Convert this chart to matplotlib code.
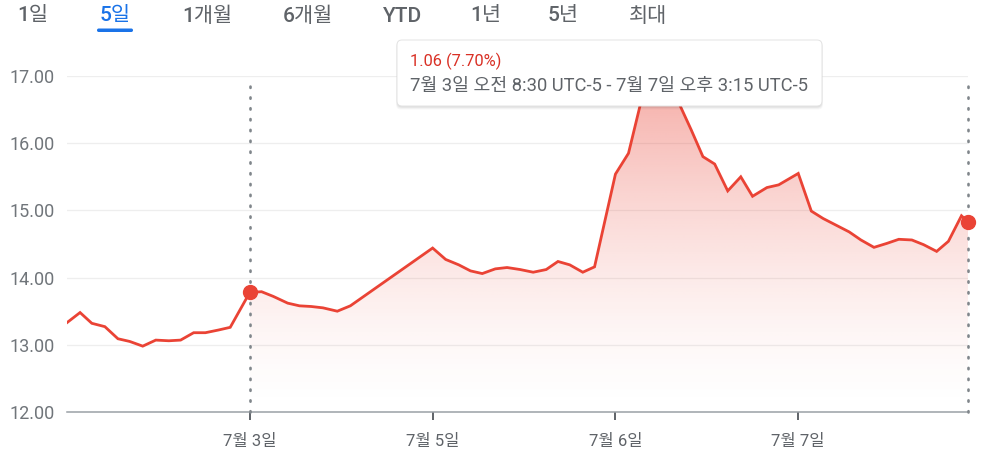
import numpy as np
import matplotlib
matplotlib.use("Agg")
import matplotlib.pyplot as plt
from matplotlib.patches import FancyBboxPatch
from matplotlib.transforms import IdentityTransform

# ---------------- data ----------------
tabs = ["1일", "5일", "1개월", "6개월", "YTD", "1년", "5년", "최대"]
tab_x = [33, 115, 207, 308, 403, 486, 563, 648]
selected_tab = "5일"

# sample position (half-hour slots) and price
t = [0.0, 1.0, 1.9, 2.9, 3.9, 4.8, 5.8, 6.8, 7.8, 8.7, 9.7, 10.6, 11.6, 12.5,
     14.0, 14.9, 15.8, 16.9, 17.8, 18.7, 19.6, 20.7, 21.7,
     28.0, 29.0, 30.0, 30.9, 31.8, 32.8, 33.7, 34.7, 35.7, 36.7, 37.6, 38.5, 39.5, 40.4,
     42.0, 43.0, 44.0, 45.0, 45.9, 46.9, 47.8, 48.7, 49.6, 50.6, 51.6, 52.5, 53.6, 54.5,
     56.0, 57.0, 57.9, 58.9, 59.9, 60.8, 61.8, 62.8, 63.7, 64.7, 65.6, 66.6, 67.5, 68.5, 69.0]
price = [13.33, 13.48, 13.32, 13.27, 13.09, 13.05, 12.98, 13.07, 13.06, 13.07, 13.18, 13.18, 13.22, 13.26,
         13.78, 13.79, 13.72, 13.62, 13.58, 13.57, 13.55, 13.50, 13.58,
         14.44, 14.27, 14.19, 14.10, 14.06, 14.13, 14.15, 14.12, 14.08, 14.12, 14.24, 14.19, 14.08, 14.16,
         15.54, 15.85, 16.65, 16.95, 16.85, 16.58, 16.20, 15.80, 15.69, 15.29, 15.50, 15.21, 15.34, 15.38,
         15.55, 14.99, 14.88, 14.78, 14.68, 14.56, 14.45, 14.51, 14.57, 14.56, 14.49, 14.39, 14.54, 14.92, 14.83]

range_start = 14.0
range_end = 69.0

x_ticks = [14, 28, 42, 56]
x_labels = ["7월 3일", "7월 5일", "7월 6일", "7월 7일"]
y_ticks = [12, 13, 14, 15, 16, 17]
y_labels = ["12.00", "13.00", "14.00", "15.00", "16.00", "17.00"]

tip_change = "1.06 (7.70%)"
tip_range = "7월 3일 오전 8:30 UTC-5 - 7월 7일 오후 3:15 UTC-5"

# ---------------- style ----------------
RED = "#ea4335"
GREY_TXT = "#70757a"
DARK_TXT = "#5f6368"
BLUE = "#1a73e8"
FONTS = ["Roboto", "Noto Sans CJK KR", "DejaVu Sans"]
plt.rcParams["font.family"] = FONTS

W, H = 991, 459
fig = plt.figure(figsize=(W / 100, H / 100), dpi=100)
fig.patch.set_facecolor("white")

L, R, T, B = 67, 968, 76, 412
ax = fig.add_axes([L / W, 1 - B / H, (R - L) / W, (B - T) / H])
ax.set_xlim(0, 69)
ax.set_ylim(12, 17)
ax.set_facecolor("none")
for s in ["top", "right", "left"]:
    ax.spines[s].set_visible(False)
ax.spines["bottom"].set_color("#9aa0a6")
ax.spines["bottom"].set_linewidth(1.1)
ax.spines["bottom"].set_zorder(2)

# gridlines
for yv in y_ticks[1:]:
    ax.axhline(yv, color="#eeeeee", lw=0.9, zorder=0)

# ticks
ax.set_yticks(y_ticks)
ax.set_yticklabels(y_labels, fontsize=13, color=GREY_TXT, family=FONTS)
ax.tick_params(axis="y", length=0, pad=9)
ax.set_xticks(x_ticks)
ax.set_xticklabels(x_labels, fontsize=12, color=DARK_TXT, family=FONTS)
ax.tick_params(axis="x", length=5.8, width=1.4, color=DARK_TXT, pad=10)

t_arr = np.array(t)
p_arr = np.array(price)

# gradient fill for the selected range
mask = t_arr >= range_start
poly = ax.fill_between(t_arr[mask], p_arr[mask], 12, color="none", lw=0)
ys = np.linspace(0, 1, 300)[:, None]
alpha = 0.44 * ys ** 1.5
img = np.zeros((300, 2, 4))
img[..., 0] = 234 / 255
img[..., 1] = 67 / 255
img[..., 2] = 53 / 255
img[..., 3] = alpha
im = ax.imshow(img, origin="lower", extent=[range_start, range_end, 12, 17],
               aspect="auto", zorder=1, interpolation="bilinear")
im.set_clip_path(poly.get_paths()[0], transform=ax.transData)

# price line
ax.plot(t_arr, p_arr, color=RED, lw=2.0, zorder=4, solid_joinstyle="miter")

# dotted range markers
for xv in (range_start, range_end):
    ax.plot([xv, xv], [12, 16.9], color="#80868b", lw=1.9,
            linestyle=(0, (0.5, 3.6)), dash_capstyle="round", zorder=3, clip_on=False)

# end-point dots
ax.plot([t_arr[mask][0], t_arr[-1]], [p_arr[mask][0], p_arr[-1]], "o",
        color=RED, ms=10, zorder=5, clip_on=False)

# ---------------- top tabs ----------------
def px(x, y):
    return x / W, 1 - y / H

for lab, xc in zip(tabs, tab_x):
    col = BLUE if lab == selected_tab else DARK_TXT
    fig.text(*px(xc, 16), lab, ha="center", va="center", fontsize=15,
             color=col, family=["Roboto", "Noto Sans CJK KR"], fontweight="medium")

fig.add_artist(FancyBboxPatch((97, H - 32), 36, 3.5,
                              boxstyle="round,pad=0,rounding_size=1.7",
                              transform=IdentityTransform(), color=BLUE, lw=0))

# ---------------- tooltip ----------------
bx0, by0, bx1, by1 = 397, 40, 822, 106
for i, a in enumerate([0.05, 0.04, 0.03]):
    fig.add_artist(FancyBboxPatch((bx0 - i * 0.5, H - by1 - 1.5 - i), bx1 - bx0 + i, by1 - by0 + i,
                                  boxstyle="round,pad=0,rounding_size=5",
                                  transform=IdentityTransform(), facecolor=(0, 0, 0, a),
                                  lw=0, zorder=8))
fig.add_artist(FancyBboxPatch((bx0, H - by1), bx1 - bx0, by1 - by0,
                              boxstyle="round,pad=0,rounding_size=5",
                              transform=IdentityTransform(), facecolor="white",
                              edgecolor="#e3e3e3", lw=0.7, zorder=9))
fig.text(*px(410, 61), tip_change, ha="left", va="center", fontsize=11.8,
         color="#d93025", family=FONTS, zorder=10)
fig.text(*px(410, 86), tip_range, ha="left", va="center", fontsize=13.2,
         color=DARK_TXT, family=FONTS, zorder=10)

fig.savefig("out.png", dpi=100, facecolor="white")
